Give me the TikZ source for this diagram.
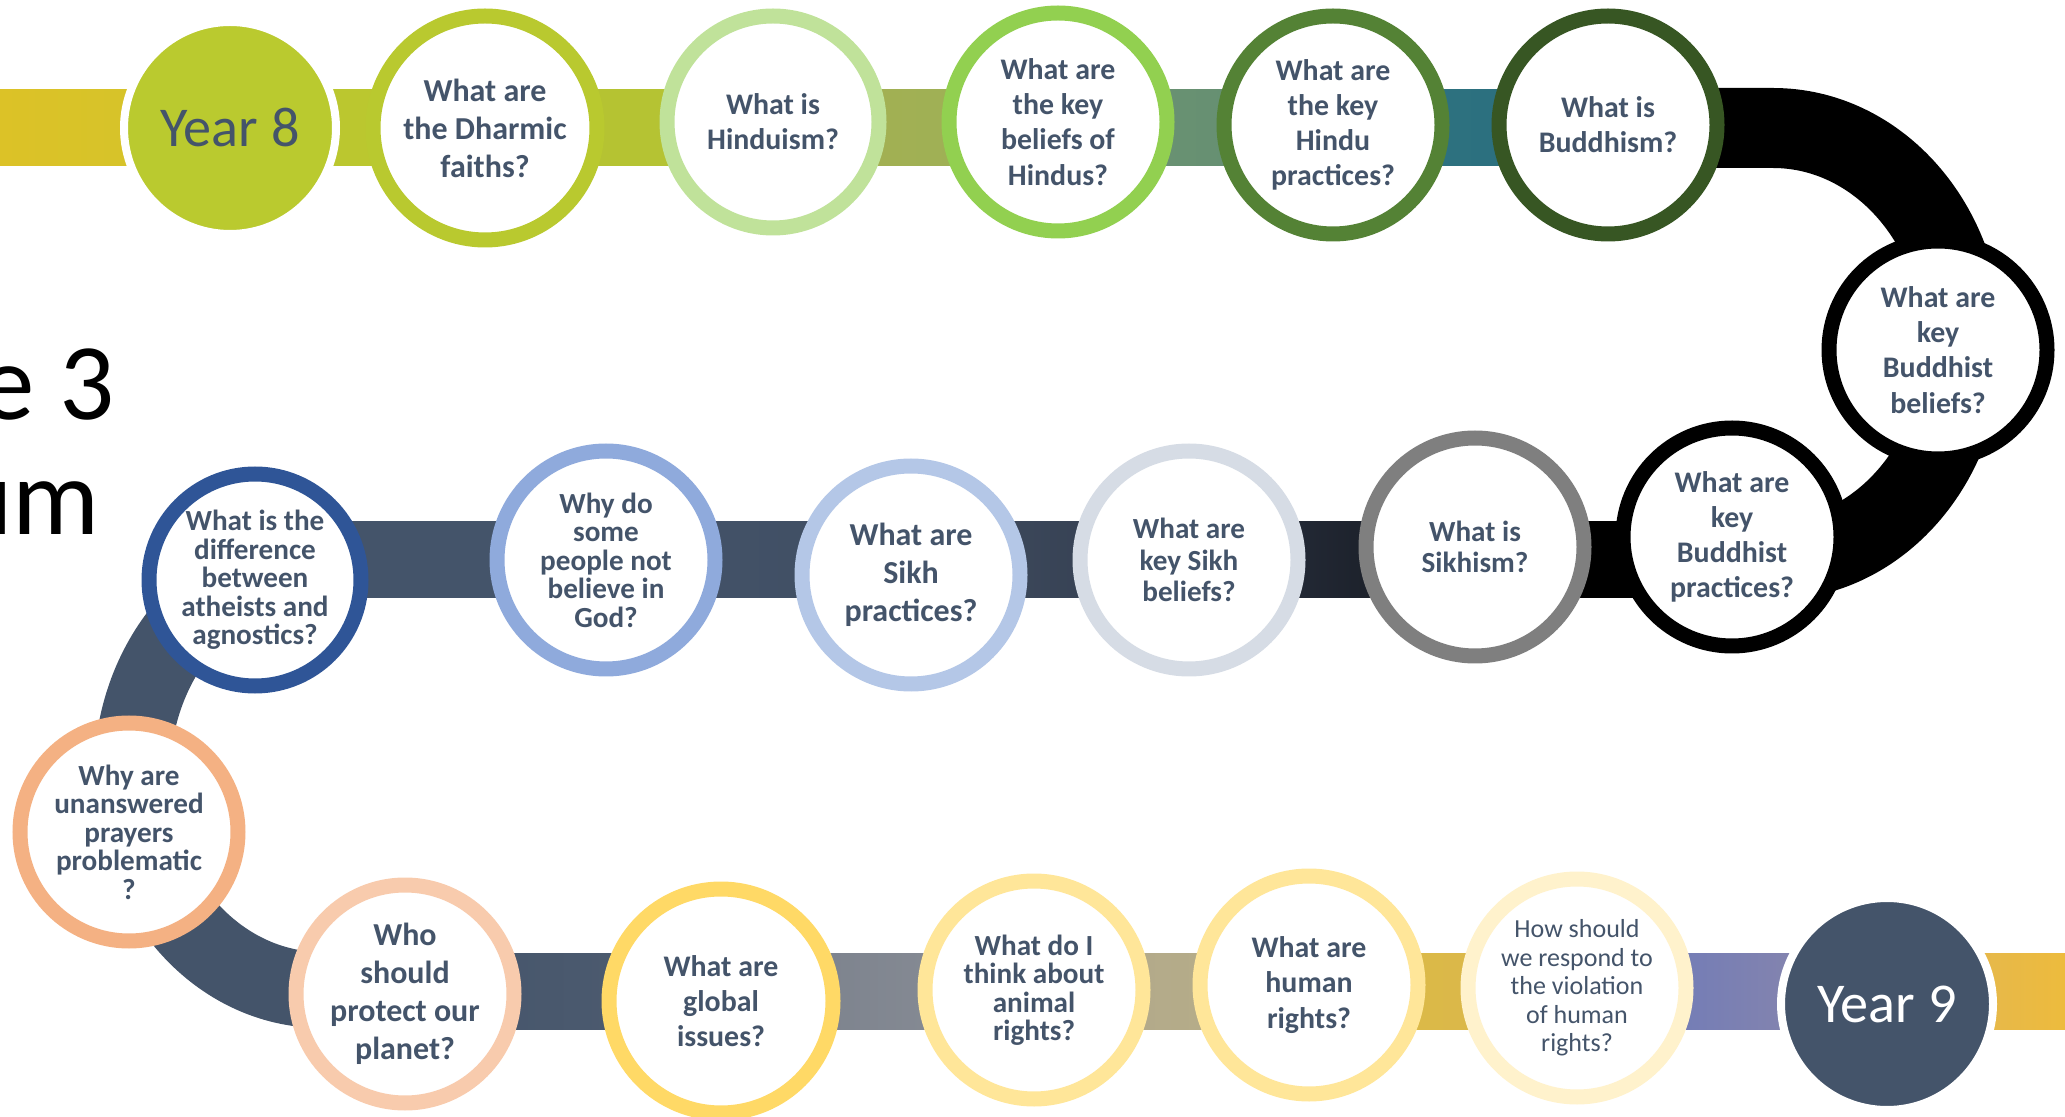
\documentclass[tikz,border=0pt]{standalone}
\usepackage{fontspec}
\setmainfont{Carlito}
\usetikzlibrary{calc,backgrounds}

\definecolor{slate}{HTML}{44546A}
\definecolor{yrgreen}{HTML}{BACA2F}
\definecolor{rDharm}{HTML}{B9C92F}
\definecolor{rHind}{HTML}{C0E29A}
\definecolor{rKbel}{HTML}{92D050}
\definecolor{rHprac}{HTML}{548235}
\definecolor{rBud}{HTML}{375623}
\definecolor{rSikh}{HTML}{7F7F7F}
\definecolor{rSbel}{HTML}{D6DCE5}
\definecolor{rSprac}{HTML}{B4C7E7}
\definecolor{rWhy}{HTML}{8FAADC}
\definecolor{rAth}{HTML}{2F5597}
\definecolor{rPray}{HTML}{F4B183}
\definecolor{rProt}{HTML}{F8CBAD}
\definecolor{rGlob}{HTML}{FFD966}
\definecolor{rAnim}{HTML}{FFE699}
\definecolor{rViol}{HTML}{FFF2CC}
% road colours
\definecolor{bA1}{HTML}{DCC227}\definecolor{bA2}{HTML}{D2C42B}
\definecolor{bB}{HTML}{BBC72F}
\definecolor{bC1}{HTML}{B7C431}\definecolor{bC2}{HTML}{B3C234}
\definecolor{bD1}{HTML}{A6B24F}\definecolor{bD2}{HTML}{9BAE59}
\definecolor{bE1}{HTML}{6E9274}\definecolor{bE2}{HTML}{618F70}
\definecolor{bF1}{HTML}{2E7582}\definecolor{bF2}{HTML}{2B6C7C}
\definecolor{bG1}{HTML}{2A3243}\definecolor{bG2}{HTML}{15181D}
\definecolor{bH1}{HTML}{404D61}\definecolor{bH2}{HTML}{323C4D}
\definecolor{bI2}{HTML}{3F4D62}
\definecolor{bJ2}{HTML}{4F5D71}
\definecolor{bK1}{HTML}{777E8A}\definecolor{bK2}{HTML}{8B8F97}
\definecolor{bL1}{HTML}{B0A78A}\definecolor{bL2}{HTML}{B8AF89}
\definecolor{bM1}{HTML}{DDB947}\definecolor{bM2}{HTML}{D9B84A}
\definecolor{bN1}{HTML}{6677BD}\definecolor{bN2}{HTML}{9089A8}
\definecolor{bO1}{HTML}{DEB55A}\definecolor{bO2}{HTML}{EDBB3D}

% one straight piece of the road between two stops
\newcommand{\bandseg}[5]{%
  \shade[left color=#4, right color=#5] ($(#2 |- #1)+(0,-38)$) rectangle ($(#3 |- #1)+(0,38)$);}

\tikzset{
  qnode/.style={circle, draw, line width=1.5mm, fill=white, minimum size=21.8mm,
    inner sep=0pt, align=center, text=slate},
  yearnode/.style={circle, draw=white, line width=0.8mm, minimum size=21.2mm,
    inner sep=0pt, font=\fontsize{16}{19}\selectfont},
  fbig/.style={font=\bfseries\fontsize{9.1}{10.8}\selectfont},
  fmid/.style={font=\bfseries\fontsize{8.5}{10}\selectfont},
  fsik/.style={font=\bfseries\fontsize{8.3}{9}\selectfont},
  fsml/.style={font=\bfseries\fontsize{8.3}{8.1}\selectfont},
  fthin/.style={font=\fontsize{7.4}{8.1}\selectfont},
  title/.style={font=\fontsize{31}{37}\selectfont, inner sep=0pt, anchor=base east}
}

\begin{document}
\begin{tikzpicture}[x=0.1mm, y=-0.1mm]
  \useasboundingbox (0,0) rectangle (2065,1117);
  \coordinate (toprow) at (0,128);
  \coordinate (midrow) at (0,560);
  \coordinate (botrow) at (0,991);
  \coordinate (tl) at (0,128);
  \coordinate (br) at (2065,991);

  \node[title] (ttl1) at (115,420) {e 3};
  \node[title] (ttl2) at (100,535) {um};

  % top row
  \node[yearnode, fill=yrgreen, text=slate] (y8) at (230,128) {Year 8};
  \node[qnode, fbig, draw=rDharm, minimum size=22.4mm] (dharm) at (485,128) {What are\\the Dharmic\\faiths?};
  \node[qnode, fmid, draw=rHind, minimum size=21.2mm] (hind) at (773,122) {What is\\Hinduism?};
  \node[qnode, fmid, draw=rKbel] (kbel) at (1058,122) {What are\\the key\\beliefs of\\Hindus?};
  \node[qnode, fmid, draw=rHprac] (hprac) at (1333,125) {What are\\the key\\Hindu\\practices?};
  \node[qnode, fmid, draw=rBud] (bud) at (1608,125) {What is\\Buddhism?};
  \node[qnode, fmid, draw=black] (bbel) at (1938,350) {What are\\key\\Buddhist\\beliefs?};

  % middle row
  \node[qnode, fmid, draw=black] (bprac) at (1732,537) {What are\\key\\Buddhist\\practices?};
  \node[qnode, fsik, draw=rSikh] (sikh) at (1475,547) {What is\\Sikhism?};
  \node[qnode, fsik, draw=rSbel] (sbel) at (1189,560) {What are\\key Sikh\\beliefs?};
  \node[qnode, fbig, draw=rSprac] (sprac) at (911,575) {What are\\Sikh\\practices?};
  \node[qnode, fsml, draw=rWhy] (why) at (606,560) {Why do\\some\\people not\\believe in\\God?};
  \node[qnode, fsml, draw=rAth, minimum size=21.2mm] (ath) at (255,580) {What is the\\difference\\between\\atheists and\\agnostics?};

  % bottom row
  \node[qnode, fsml, draw=rPray] (pray) at (129,832) {Why are\\unanswered\\prayers\\problematic\\?};
  \node[qnode, fbig, draw=rProt] (prot) at (405,994) {Who\\should\\protect our\\planet?};
  \node[qnode, fmid, draw=rGlob, minimum size=22.4mm] (glob) at (721,1001) {What are\\global\\issues?};
  \node[qnode, fsml, draw=rAnim] (anim) at (1034,990) {What do I\\think about\\animal\\rights?};
  \node[qnode, fmid, draw=rAnim] (hum) at (1309,985) {What are\\human\\rights?};
  \node[qnode, fthin, draw=rViol] (viol) at (1577,988) {How should\\we respond to\\the violation\\of human\\rights?};
  \node[yearnode, fill=slate, text=white] (y9) at (1887,1004) {Year 9};

  \begin{scope}[on background layer]
    \bandseg{toprow}{tl}{y8}{bA1}{bA2}
    \bandseg{toprow}{y8}{dharm}{bB}{bB}
    \bandseg{toprow}{dharm}{hind}{bC1}{bC2}
    \bandseg{toprow}{hind}{kbel}{bD1}{bD2}
    \bandseg{toprow}{kbel}{hprac}{bE1}{bE2}
    \bandseg{toprow}{hprac}{bud}{bF1}{bF2}
    \draw[line width=8mm] (bud |- toprow) -- ++(165,0)
      arc[start angle=-90, end angle=90, x radius=190, y radius=216] -- (bprac |- midrow);
    \bandseg{midrow}{sikh}{bprac}{black}{black}
    \bandseg{midrow}{sbel}{sikh}{bG1}{bG2}
    \bandseg{midrow}{sprac}{sbel}{bH1}{bH2}
    \bandseg{midrow}{why}{sprac}{slate}{bI2}
    \bandseg{midrow}{ath}{why}{slate}{slate}
    \draw[line width=7.6mm, slate] (ath |- midrow) -- ++(67,0)
      arc[start angle=270, end angle=90, x radius=190, y radius=215] -- (prot |- botrow);
    \bandseg{botrow}{prot}{glob}{slate}{bJ2}
    \bandseg{botrow}{glob}{anim}{bK1}{bK2}
    \bandseg{botrow}{anim}{hum}{bL1}{bL2}
    \bandseg{botrow}{hum}{viol}{bM1}{bM2}
    \bandseg{botrow}{viol}{y9}{bN1}{bN2}
    \bandseg{botrow}{y9}{br}{bO1}{bO2}
  \end{scope}
\end{tikzpicture}
\end{document}
